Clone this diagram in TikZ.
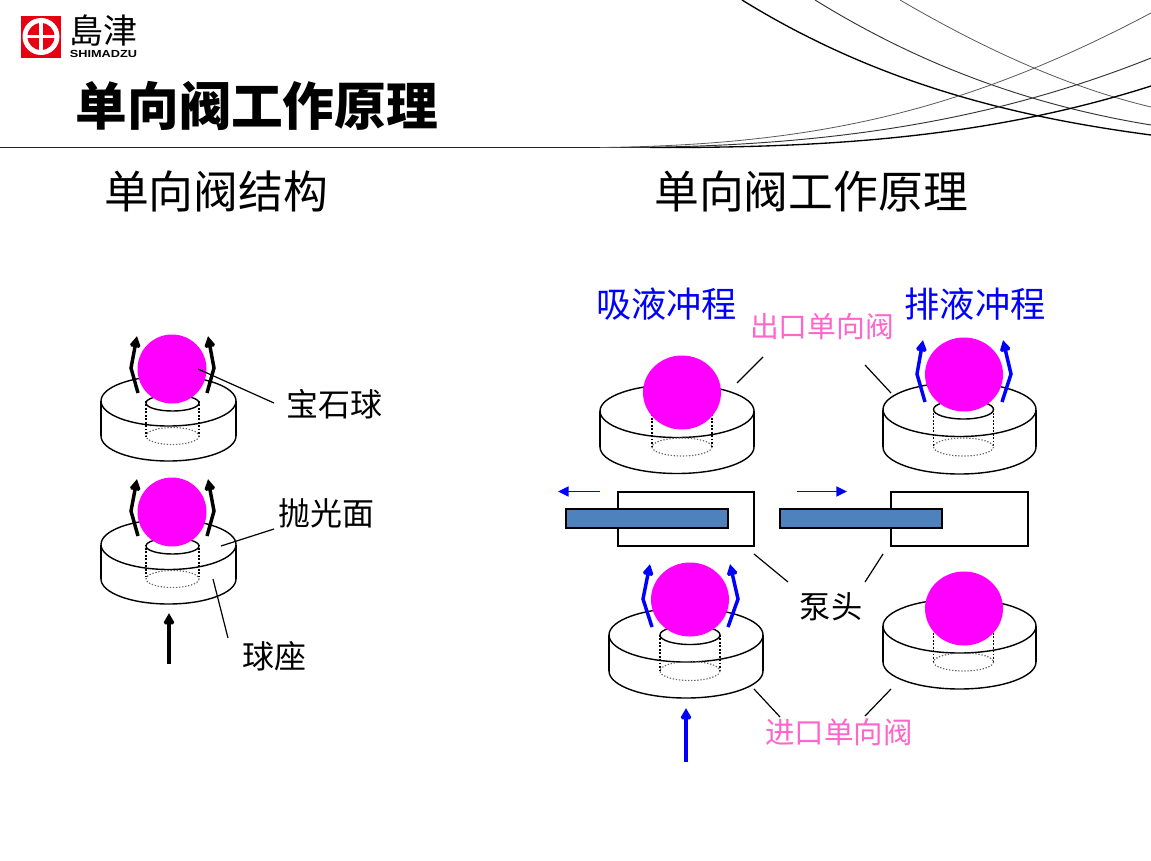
\documentclass[tikz,border=0pt]{standalone}
\usepackage{fontspec}
\setmainfont{Liberation Sans}
\newfontfamily\cjk{Noto Sans CJK SC}
\newfontfamily\cjkjp{Noto Sans CJK JP}
\usetikzlibrary{arrows.meta}
\definecolor{ballc}{HTML}{FF00FF}
\definecolor{pinkt}{HTML}{FF66CC}
\definecolor{pistonc}{HTML}{4F81BD}
\definecolor{logored}{HTML}{E60012}
\newcommand{\txt}[1]{\fontsize{#1}{#1}\selectfont\cjk}
\tikzset{
  x=0.75pt,y=-0.75pt,
  rim/.style={line width=1.05pt,black},
  side/.style={line width=1.8pt,black},
  hid/.style={line width=1.3pt,black,dash pattern=on 1.3pt off 1.3pt},
  hidb/.style={line width=0.85pt,black!60,dash pattern=on 1pt off 1.3pt},
  sphere/.style={fill=ballc,draw=none},
  leader/.style={line width=0.9pt,black},
  flowk/.style={line width=2.6pt,black,-{Triangle[length=8.5pt,width=9pt]},miter limit=2},
  flowb/.style={line width=2.6pt,blue,-{Triangle[length=8.5pt,width=9pt]},miter limit=2},
  thinflow/.style={line width=1.2pt,blue,-{Triangle[length=8pt,width=7.5pt]}},
  cyl/.style={line width=1.6pt,black,fill=white},
  piston/.style={line width=1.6pt,black,fill=pistonc},
  lab/.style={inner sep=0pt,outer sep=0pt,anchor=center},
  arcA/.style={line width=1pt,black},
  arcB/.style={line width=0.7pt,black!80},
  arcC/.style={line width=0.6pt,black!65},
}
% #1 cx, #2 rx, #3 top y, #4 ry, #5 end y, #6 inner cx, #7 inner rx, #8 dotted-ellipse ry
\newcommand{\seat}[8]{
  \draw[rim] (#1,#3) ellipse [x radius=#2,y radius=#4];
  \draw[side] ({#1-#2},#3) -- ({#1-#2},#5);
  \draw[side] ({#1+#2},#3) -- ({#1+#2},#5);
  \draw[rim] ({#1-#2},#5) .. controls ({#1-#2},{#5+.5523*#4}) and ({#1-.5523*#2},{#5+#4}) .. (#1,{#5+#4})
     .. controls ({#1+.5523*#2},{#5+#4}) and ({#1+#2},{#5+.5523*#4}) .. ({#1+#2},#5);
  \draw[hid] ({#6-#7},#3) -- ({#6-#7},#5);
  \draw[hid] ({#6+#7},#3) -- ({#6+#7},#5);
  \draw[hidb] (#6,#5) ellipse [x radius=#7,y radius=#8];
}
\newcommand{\mouth}[4]{\draw[rim] (#1,#2) ellipse [x radius=#3,y radius=#4];}
\newcommand{\ball}[4]{\fill[sphere] (#1,#2) ellipse [x radius=#3,y radius=#4];}
\newcommand{\flow}[7]{\draw[#1] (#2,#3) -- (#4,#5) -- (#6,#7);}
\begin{document}
\begin{tikzpicture}
\useasboundingbox (0,0) rectangle (1151,860);
\fill[white] (0,0) rectangle (1151,860);

% decorative header lines
\draw[line width=0.8pt,black!85] (0,147.6) -- (700,147.6);
\draw[arcA] (742,0) .. controls (878,84) and (1015,117) .. (1151,135);
\draw[arcB] (815,0) .. controls (925,68) and (1035,106) .. (1151,125);
\draw[arcC] (900,0) .. controls (984,49) and (1067,87) .. (1151,107);
\draw[arcC] (600,147.5) .. controls (810,145) and (960,114) .. (1151,13);
\draw[arcB] (620,147.5) .. controls (810,147) and (981,126) .. (1151,58);
\draw[arcA] (650,147.5) .. controls (820,148) and (985,139) .. (1151,86);

% logo
\fill[logored] (21,16) rectangle (61,58);
\fill[white] (41,36.5) circle [radius=18.5];
\fill[logored] (41,36.5) circle [radius=13.5];
\fill[white] (39.4,21) rectangle (42.6,52);
\fill[white] (26,34.9) rectangle (56,38.1);
\node[lab] (logocn) at (103.5,31) {\fontsize{25.5}{25.5}\selectfont\cjkjp 島津};
\node[lab,xscale=1.24] (logoen) at (103.5,54) {\fontsize{7.7}{7.7}\selectfont\bfseries SHIMADZU};

% titles
\node[lab] (title) at (257,106) {\txt{38.8}\bfseries 单向阀工作原理};
\node[lab] (subl) at (216,191) {\txt{33.6}单向阀结构};
\node[lab] (subr) at (811,191) {\txt{33.6}单向阀工作原理};

% left: structure
\seat{168.5}{67.5}{401}{25}{436}{172.5}{26.5}{8.5}
\mouth{172.5}{403}{26.5}{8}
\ball{172}{369}{34.5}{34.5}
\flow{flowk}{138}{393}{131}{368}{137}{336}
\flow{flowk}{207}{393}{214}{368}{208}{336}

\seat{168.5}{67.5}{544.5}{25}{579}{172.5}{26.5}{8.5}
\mouth{172.5}{546}{26.5}{8}
\ball{172}{512}{34.5}{34.5}
\flow{flowk}{138}{536}{131}{511}{137}{479}
\flow{flowk}{207}{536}{214}{511}{208}{479}

\coordinate (arrowkS) at (169,664);
\coordinate (arrowkE) at (169,613);
\draw[flowk] (arrowkS) -- (arrowkE);

\node[lab] (gem) at (334.5,404) {\txt{24}宝石球};
\node[lab] (polish) at (326.5,513) {\txt{24}抛光面};
\node[lab] (base) at (274.5,656) {\txt{24}球座};
\coordinate (gemA) at (198,369);
\coordinate (gemB) at (274,403);
\coordinate (polA) at (221,546);
\coordinate (polB) at (274,529);
\coordinate (baseA) at (213,579);
\coordinate (baseB) at (228,638);
\draw[leader] (gemA) -- (gemB);
\draw[leader] (polA) -- (polB);
\draw[leader] (baseA) -- (baseB);

% right: intake-stroke column and discharge-stroke column
\node[lab,text=blue] (suck) at (666.5,304) {\txt{26.4}吸液冲程};
\node[lab,text=blue] (push) at (975,304) {\txt{26.4}排液冲程};
\node[lab,text=pinkt] (outv) at (822,327) {\txt{21.6}出口单向阀};
\node[lab,text=pinkt] (inv) at (839,732) {\txt{22.1}进口单向阀};
\node[lab] (pump) at (831,607) {\txt{23.4}泵头};

\seat{677}{77}{411}{26.5}{447}{682}{30}{9}
\ball{682}{392.5}{39}{37}

\seat{959.5}{76.5}{409.5}{27}{447}{963.5}{30}{9}
\mouth{963.5}{409.5}{30}{9.5}
\ball{964}{374.5}{39}{37}
\flow{flowb}{925}{402}{917}{374}{923}{340}
\flow{flowb}{1002}{402}{1011}{374}{1003}{340}

\seat{686}{77}{635}{27}{671}{690}{30}{9.5}
\mouth{690}{635}{30}{9.5}
\ball{690}{599.5}{39}{37}
\flow{flowb}{652}{627}{643}{599}{650}{564}
\flow{flowb}{728}{627}{738}{599}{730}{564}
\coordinate (inS) at (686,762);
\coordinate (inE) at (686,708);
\draw[flowb] (inS) -- (inE);

\seat{959.5}{76.5}{626}{27}{662}{963.5}{30}{9}
\ball{964}{608.5}{39}{37}

% pump heads
\node[cyl,draw,minimum width=102pt,minimum height=40.5pt,inner sep=0pt] (cylL) at (686,519) {};
\node[piston,draw,minimum width=121.5pt,minimum height=14.2pt,inner sep=0pt] (pisL) at (647,518.5) {};
\node[cyl,draw,minimum width=102.75pt,minimum height=40.5pt,inner sep=0pt] (cylR) at (959.5,519) {};
\node[piston,draw,minimum width=121.5pt,minimum height=14.2pt,inner sep=0pt] (pisR) at (861,518.5) {};
\coordinate (mvLS) at (600,491.5);
\coordinate (mvLE) at (558,491.5);
\coordinate (mvRS) at (797,491.5);
\coordinate (mvRE) at (847,491.5);
\draw[thinflow] (mvLS) -- (mvLE);
\draw[thinflow] (mvRS) -- (mvRE);

% leaders
\coordinate (l1a) at (737,383);
\coordinate (l1b) at (763,357);
\coordinate (l2a) at (865,365);
\coordinate (l2b) at (891,393);
\coordinate (l3a) at (754,554);
\coordinate (l3b) at (788,582);
\coordinate (l4a) at (883,554);
\coordinate (l4b) at (865,582);
\coordinate (l5a) at (754,689);
\coordinate (l5b) at (780,717);
\coordinate (l6a) at (891,689);
\coordinate (l6b) at (865,716);
\foreach \a/\b in {l1a/l1b,l2a/l2b,l3a/l3b,l4a/l4b,l5a/l5b,l6a/l6b}
  \draw[leader] (\a) -- (\b);
\end{tikzpicture}
\end{document}
